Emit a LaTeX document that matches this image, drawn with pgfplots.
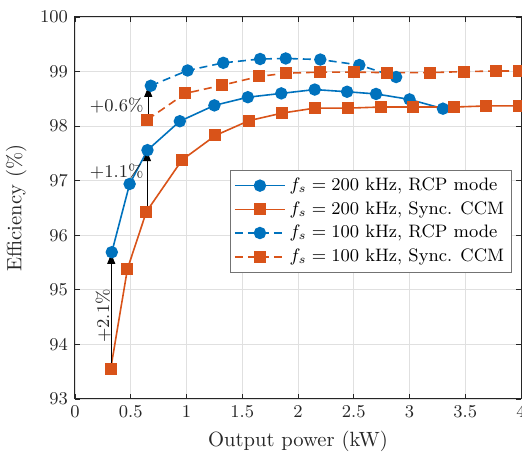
\documentclass[border=0pt]{standalone}
\usepackage{pgfplots}
\pgfplotsset{compat=1.18}
\usetikzlibrary{arrows.meta}
\definecolor{mblue}{RGB}{0,114,189}
\definecolor{morange}{RGB}{217,83,25}
\definecolor{axgray}{RGB}{38,38,38}

\begin{document}
\begin{tikzpicture}
\begin{axis}[
    width=223pt, height=191pt, scale only axis,
    xmin=0, xmax=4, ymin=93, ymax=100,
    xtick={0,0.5,1,1.5,2,2.5,3,3.5,4},
    ytick={93,94,95,96,97,98,99,100},
    grid=major, major grid style={black!12, line width=0.4pt},
    tick align=inside, major tick length=2.5pt,
    tick style={axgray, line width=0.4pt},
    axis line style={axgray, line width=0.5pt},
    tick label style={font=\fontsize{9.3}{11}\selectfont, text=axgray},
    label style={font=\fontsize{10.3}{12}\selectfont, text=axgray},
    xlabel={Output power (kW)},
    ylabel={Efficiency (\%)},
    legend style={at={(0.98,0.6)}, anchor=north east, draw=black!55,
        font=\fontsize{9}{10.5}\selectfont, row sep=0pt, inner sep=1.8pt},
    legend cell align=left,
    legend image code/.code={
        \draw[mark repeat=2,mark phase=2,#1] plot coordinates {(0pt,0pt) (12.5pt,0pt) (25pt,0pt)};},
    clip=false,
]
\addplot[mblue, line width=0.8pt, mark=*, mark size=2.7pt] coordinates {
  (0.33,95.69) (0.49,96.94) (0.65,97.56) (0.94,98.09) (1.25,98.38)
  (1.55,98.53) (1.85,98.60) (2.15,98.67) (2.44,98.63) (2.70,98.59)
  (3.00,98.49) (3.30,98.32)
};
\addlegendentry{$f_s = 200$ kHz, RCP mode}
\addplot[morange, line width=0.8pt, mark=square*, mark size=2.6pt] coordinates {
  (0.32,93.55) (0.47,95.38) (0.64,96.43) (0.96,97.38) (1.26,97.83)
  (1.56,98.10) (1.86,98.24) (2.15,98.33) (2.45,98.33) (2.74,98.35)
  (3.03,98.35) (3.40,98.35) (3.69,98.37) (3.98,98.37)
};
\addlegendentry{$f_s = 200$ kHz, Sync. CCM}
\addplot[mblue, line width=0.8pt, dash pattern=on 4pt off 2.5pt, mark=*, mark size=2.7pt, mark options={solid}] coordinates {
  (0.68,98.74) (1.01,99.02) (1.33,99.16) (1.66,99.23) (1.89,99.24)
  (2.20,99.22) (2.55,99.12) (2.88,98.90)
};
\addlegendentry{$f_s = 100$ kHz, RCP mode}
\addplot[morange, line width=0.8pt, dash pattern=on 4pt off 2.5pt, mark=square*, mark size=2.6pt, mark options={solid}] coordinates {
  (0.65,98.12) (0.99,98.60) (1.32,98.75) (1.65,98.91) (1.89,98.97)
  (2.20,98.99) (2.50,98.99) (2.80,98.98) (3.18,98.98) (3.49,99.00)
  (3.78,99.01) (3.98,99.01)
};
\addlegendentry{$f_s = 100$ kHz, Sync. CCM}

% gain annotations
\draw[black, line width=0.4pt, -{Triangle[length=5pt,width=4pt]}] (axis cs:0.325,93.55) -- (axis cs:0.325,95.66);
\draw[black, line width=0.4pt, -{Triangle[length=5pt,width=4pt]}] (axis cs:0.646,96.43) -- (axis cs:0.646,97.54);
\draw[black, line width=0.4pt, -{Triangle[length=5pt,width=4pt]}] (axis cs:0.657,98.12) -- (axis cs:0.657,98.72);
\node[font=\fontsize{9}{10}\selectfont, text=axgray] at (axis cs:0.374,98.38) {+0.6\%};
\node[font=\fontsize{9}{10}\selectfont, text=axgray] at (axis cs:0.374,97.16) {+1.1\%};
\node[font=\fontsize{9}{10}\selectfont, text=axgray, rotate=90] at (axis cs:0.254,94.52) {+2.1\%};
\end{axis}
\pgfresetboundingbox
\path[use as bounding box] ([xshift=-37.5pt,yshift=-30pt]current axis.south west) rectangle ([xshift=0.5pt,yshift=8.5pt]current axis.north east);
\end{tikzpicture}
\end{document}
